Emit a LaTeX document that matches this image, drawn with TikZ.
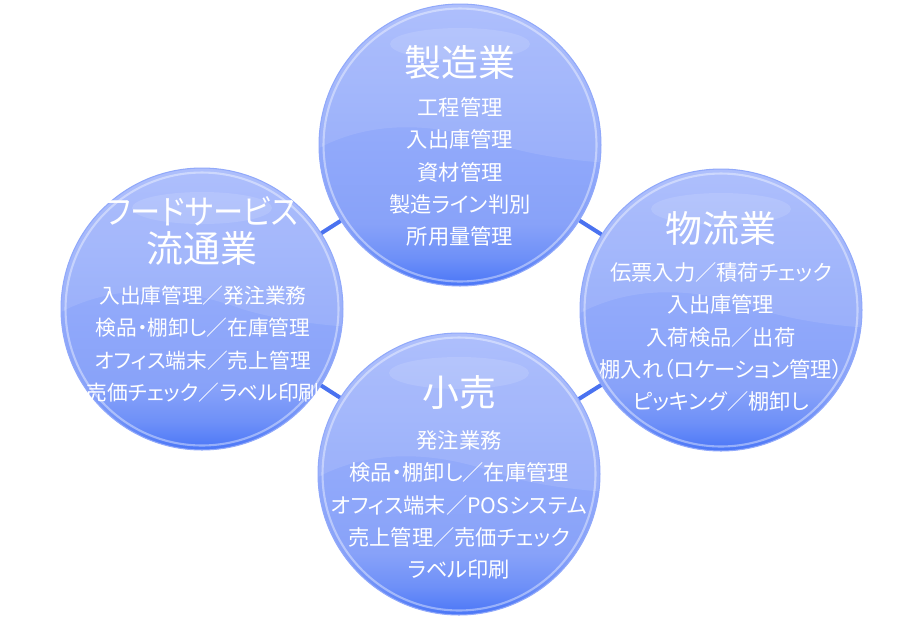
\documentclass[tikz,border=0pt]{standalone}
\usepackage{fontspec}
\setmainfont{Noto Sans CJK JP}[RawFeature=+palt]
\usetikzlibrary{calc}

\definecolor{bubtop}{HTML}{A5B8FC}
\definecolor{bubmid}{HTML}{91A9FA}
\definecolor{bublow}{HTML}{88A2F9}
\definecolor{bubdeep}{HTML}{6E90F8}
\definecolor{bubbot}{HTML}{4A76F7}
\definecolor{ringline}{HTML}{4A72F0}

\pgfdeclareverticalshading{bubshade}{100bp}{color(0bp)=(bubbot); color(25bp)=(bubbot);
	color(30bp)=(bubdeep); color(36bp)=(bublow); color(50bp)=(bubmid);
	color(75bp)=(bubtop); color(100bp)=(bubtop)}

\tikzset{
	bubble/.style={circle, minimum size=5.64cm, inner sep=0pt,
		shading=bubshade, draw=bubmid, line width=0.6pt,
		path picture={
			\begin{scope}[shift={(path picture bounding box.center)}]
			\fill[white, opacity=.10] (-150,-150) -- (-150,8)
				.. controls (-90,-28) and (-20,-22) .. (40,0)
				.. controls (80,12) and (120,16) .. (150,18) -- (150,-150) -- cycle;
			\fill[white, opacity=.12] (0,-101) ellipse [x radius=1.4cm, y radius=0.32cm];
			\draw[white, opacity=.4, line width=1.2pt] (0,0) circle [radius=2.73cm];
			\end{scope}
		}},
	heading/.style={text=white, font=\fontsize{21}{21.5}\selectfont, align=center},
	items/.style={text=white, font=\fontsize{12.1}{18.4}\selectfont, align=center},
	link/.style={draw=ringline, line width=2.3pt},
}

\begin{document}
\begin{tikzpicture}[x=0.02cm, y=-0.02cm]
	\useasboundingbox[fill=white] (0,0) rectangle (920,620);

	\node[bubble] (mfg) at (460,145) {};
	\node[bubble] (log) at (721,310) {};
	\node[bubble] (food) at (202,309) {};
	\node[bubble] (ret) at (459,474) {};

	\draw[link] (mfg) -- (log);
	\draw[link] (log) -- (ret);
	\draw[link] (ret) -- (food);
	\draw[link] (food) -- (mfg);

	% 製造業
	\node[heading] (mfgT) at ($(mfg)+(0,-83)$) {製造業};
	\node[items] (mfgL) at ($(mfg)+(0,27)$) {工程管理\\入出庫管理\\資材管理\\製造ライン判別\\所用量管理};

	% 物流業
	\node[heading] (logT) at ($(log)+(0,-82)$) {物流業};
	\node[items] (logL) at ($(log)+(0,27)$) {伝票入力／積荷チェック\\入出庫管理\\入荷検品／出荷\\棚入れ（ロケーション管理）\\ピッキング／棚卸し};

	% フードサービス
	\node[heading] (foodT) at ($(food)+(0,-78)$) {\scalebox{0.82}[0.92]{フードサービス}\\流通業};
	\node[items, font=\fontsize{11.8}{18.4}\selectfont] (foodL) at ($(food)+(1,35)$) {入出庫管理／発注業務\\検品・棚卸し／在庫管理\\オフィス端末／売上管理\\売価チェック／ラベル印刷};

	% 小売
	\node[heading] (retT) at ($(ret)+(0,-82)$) {小売};
	\node[items] (retL) at ($(ret)+(0,31)$) {発注業務\\検品・棚卸し／在庫管理\\オフィス端末／POSシステム\\売上管理／売価チェック\\ラベル印刷};
\end{tikzpicture}
\end{document}
